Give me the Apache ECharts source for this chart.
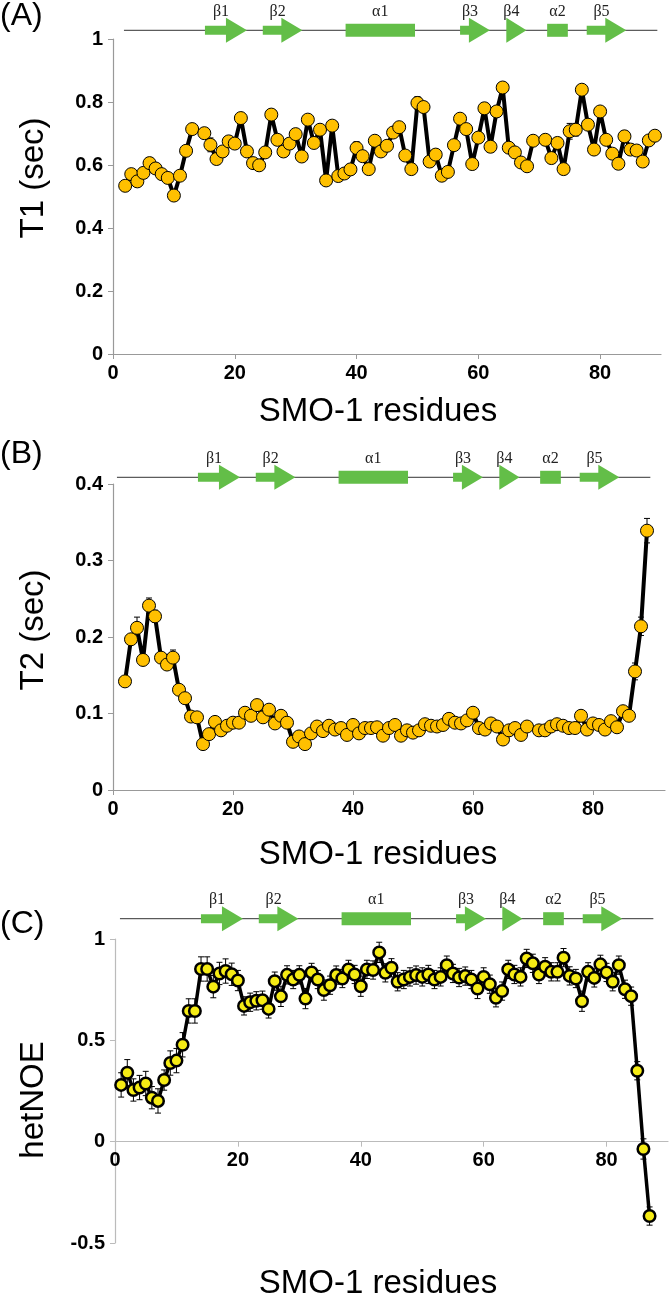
<!DOCTYPE html>
<html><head><meta charset="utf-8">
<script src="https://cdn.jsdelivr.net/npm/echarts@6/dist/echarts.min.js"></script>
<style>html,body{margin:0;padding:0;background:#fff}#c{width:670px;height:1298px}</style>
</head><body><div id="c"></div>
<script>
// ---------- data ----------
const xTicks = [0, 20, 40, 60, 80];
const t1Ticks = [0, 0.2, 0.4, 0.6, 0.8, 1];
const t2Ticks = [0, 0.1, 0.2, 0.3, 0.4];
const noeTicks = [-0.5, 0, 0.5, 1];

const t1Res = [2,3,4,5,6,7,8,9,10,11,12,13,
  15,16,17,18,19,20,21,22,23,24,25,26,27,28,29,30,31,32,33,34,35,36,37,38,39,40,41,42,43,44,45,46,47,48,49,50,51,52,53,54,55,56,57,58,59,60,61,62,63,64,65,66,67,68,69,
  71,72,73,74,75,76,77,78,79,80,81,82,83,84,85,86,87,88,89];
const t1Val = [0.534,0.571,0.548,0.575,0.606,0.589,0.571,0.559,0.503,0.566,0.645,0.714,
  0.701,0.664,0.619,0.643,0.675,0.668,0.749,0.643,0.606,0.599,0.640,0.760,0.680,0.643,0.668,0.698,0.627,0.744,0.670,0.712,0.551,0.725,0.565,0.573,0.586,0.654,0.628,0.587,0.677,0.643,0.661,0.703,0.720,0.630,0.587,0.797,0.784,0.611,0.633,0.566,0.578,0.663,0.747,0.714,0.603,0.687,0.780,0.658,0.770,0.846,0.655,0.640,0.608,0.596,0.677,
  0.680,0.622,0.670,0.587,0.707,0.712,0.839,0.728,0.649,0.770,0.680,0.636,0.604,0.691,0.649,0.646,0.611,0.678,0.693];
const t1Err = [0.012,0.012,0.012,0.012,0.012,0.012,0.012,0.012,0.012,0.012,0.012,0.012,
  0.012,0.022,0.012,0.012,0.012,0.012,0.012,0.012,0.012,0.012,0.012,0.012,0.012,0.012,0.012,0.015,0.012,0.012,0.012,0.012,0.012,0.012,0.012,0.012,0.012,0.020,0.012,0.012,0.015,0.012,0.012,0.012,0.012,0.012,0.012,0.020,0.012,0.012,0.012,0.012,0.012,0.012,0.016,0.012,0.012,0.015,0.012,0.012,0.012,0.012,0.012,0.012,0.012,0.012,0.012,
  0.012,0.012,0.012,0.012,0.025,0.020,0.012,0.012,0.012,0.012,0.012,0.012,0.012,0.012,0.012,0.012,0.012,0.012,0.012];

const t2Res = [2,3,4,5,6,7,8,9,10,11,12,13,14,15,16,17,18,19,20,21,22,23,24,25,26,27,28,29,30,31,32,33,34,35,36,37,38,39,40,41,42,43,44,45,46,47,48,49,50,51,52,53,54,55,56,57,58,59,60,61,62,63,64,65,66,67,68,69,
  71,72,73,74,75,76,77,78,79,80,81,82,83,84,85,86,87,88,89];
const t2Val = [0.142,0.197,0.212,0.170,0.241,0.227,0.173,0.164,0.173,0.131,0.120,0.096,0.095,0.060,0.073,0.089,0.078,0.084,0.088,0.088,0.101,0.097,0.111,0.095,0.105,0.087,0.097,0.088,0.063,0.070,0.060,0.074,0.083,0.077,0.084,0.079,0.081,0.072,0.085,0.074,0.081,0.081,0.082,0.071,0.081,0.085,0.071,0.078,0.075,0.078,0.086,0.084,0.083,0.085,0.093,0.088,0.087,0.091,0.101,0.081,0.079,0.087,0.083,0.066,0.078,0.081,0.072,0.083,
  0.078,0.078,0.083,0.086,0.084,0.081,0.081,0.097,0.079,0.087,0.085,0.079,0.090,0.082,0.103,0.097,0.155,0.214,0.339];
const t2Err = [0.004,0.006,0.014,0.004,0.010,0.008,0.004,0.004,0.010,0.004,0.004,0.004,0.004,0.004,0.004,0.004,0.004,0.004,0.004,0.004,0.004,0.004,0.004,0.004,0.004,0.004,0.004,0.004,0.004,0.004,0.004,0.004,0.004,0.004,0.004,0.004,0.004,0.004,0.004,0.004,0.004,0.004,0.004,0.004,0.004,0.004,0.004,0.004,0.004,0.004,0.004,0.004,0.004,0.004,0.004,0.004,0.004,0.004,0.004,0.004,0.004,0.004,0.004,0.004,0.004,0.004,0.004,0.004,
  0.004,0.004,0.004,0.004,0.004,0.004,0.004,0.006,0.004,0.004,0.004,0.004,0.004,0.004,0.006,0.004,0.011,0.012,0.016];

const noeRes = [1,2,3,4,5,6,7,8,9,10,11,12,13,14,15,16,17,18,19,20,21,22,23,24,25,26,27,28,29,30,31,32,33,34,35,36,37,38,39,40,41,42,43,44,45,46,47,48,49,50,51,52,53,54,55,56,57,58,59,60,61,62,63,64,65,66,67,68,69,70,71,72,73,74,75,76,77,78,79,80,81,82,83,84,85,86,87];
const noeVal = [0.280,0.340,0.255,0.267,0.287,0.217,0.201,0.304,0.388,0.400,0.478,0.645,0.645,0.852,0.852,0.765,0.830,0.842,0.826,0.795,
  0.670,0.688,0.695,0.698,0.655,0.792,0.717,0.823,0.800,0.823,0.706,0.835,0.800,0.748,0.772,0.822,0.805,0.850,0.825,0.767,
  0.850,0.847,0.934,0.833,0.858,0.789,0.800,0.813,0.822,0.813,0.825,0.800,0.813,0.871,0.830,0.810,0.817,0.800,0.756,0.813,
  0.777,0.710,0.743,0.850,0.825,0.813,0.904,0.880,0.825,0.863,0.838,0.838,0.908,0.818,0.805,0.693,0.838,0.808,0.875,0.835,
  0.789,0.871,0.752,0.718,0.350,-0.036,-0.367];
const noeErr = [0.060,0.065,0.055,0.060,0.060,0.055,0.060,0.050,0.060,0.060,0.060,0.060,0.060,0.060,0.060,0.055,0.055,0.060,0.055,0.050,
  0.045,0.045,0.045,0.045,0.045,0.045,0.050,0.045,0.045,0.045,0.050,0.045,0.045,0.050,0.045,0.045,0.045,0.045,0.045,0.050,
  0.045,0.045,0.050,0.045,0.045,0.045,0.045,0.045,0.045,0.045,0.045,0.045,0.045,0.045,0.045,0.045,0.045,0.045,0.050,0.045,
  0.045,0.045,0.045,0.045,0.045,0.045,0.045,0.045,0.045,0.045,0.045,0.045,0.045,0.045,0.045,0.050,0.045,0.045,0.045,0.045,
  0.045,0.045,0.045,0.045,0.045,0.050,0.045];

// secondary structure (residue numbers)
const ssLabels = ['β1','β2','α1','β3','β4','α2','β5'];
const ssStart = [15.1, 24.6, 38.2, 57.0, 64.6, 71.3, 77.8];
const ssEnd   = [22.0, 31.1, 49.6, 61.9, 67.9, 74.7, 84.3];
const ssKind  = ['strand','strand','helix','strand','strand','helix','strand'];
const ssLine  = [1.8, 89.4];

// ---------- chart ----------
const chart = echarts.init(document.getElementById('c'), null, {renderer: 'canvas'});
const SANS = "'Liberation Sans', Arial, sans-serif";
const SERIF = "'Liberation Serif', 'Times New Roman', serif";

function pairs(xs, ys) { return xs.map((x, i) => [x, ys[i]]); }
function triples(xs, ys, es) { return xs.map((x, i) => [x, ys[i], es[i]]); }

function errRender(params, api) {
  const x = api.value(0), y = api.value(1), e = api.value(2);
  const t = api.coord([x, y + e]), b = api.coord([x, y - e]);
  const w = 3;
  const st = {stroke: '#000', lineWidth: 1};
  return {type: 'group', children: [
    {type: 'line', shape: {x1: t[0], y1: t[1], x2: b[0], y2: b[1]}, style: st},
    {type: 'line', shape: {x1: t[0] - w, y1: t[1], x2: t[0] + w, y2: t[1]}, style: st},
    {type: 'line', shape: {x1: b[0] - w, y1: b[1], x2: b[0] + w, y2: b[1]}, style: st}
  ]};
}

function ssRender(params, api) {
  const s = api.coord([api.value(0), 0.5]);
  const e = api.coord([api.value(1), 0.5]);
  const kind = ssKind[params.dataIndex];
  const cy = s[1];
  const green = '#63be48';
  const children = [];
  let lx;
  if (kind === 'strand') {
    const head = 21, hh = 12.5, sh = 4.5;
    const hx = Math.max(s[0], e[0] - head);
    children.push({type: 'polygon', shape: {points: [
      [s[0], cy - sh], [hx, cy - sh], [hx, cy - hh], [e[0], cy], [hx, cy + hh], [hx, cy + sh], [s[0], cy + sh]
    ]}, style: {fill: green}});
    lx = (s[0] + e[0]) / 2 - 5;
  } else {
    children.push({type: 'rect', shape: {x: s[0], y: cy - 6.5, width: e[0] - s[0], height: 13}, style: {fill: green}});
    lx = (s[0] + e[0]) / 2;
  }
  children.push({type: 'text', x: lx, y: cy - 19, style: {
    text: ssLabels[params.dataIndex], font: '16px ' + SERIF, fill: '#222',
    textAlign: 'center', textVerticalAlign: 'middle'}});
  return {type: 'group', children: children};
}

const grids = [
  {left: 113, top: 39, width: 548, height: 315},
  {left: 113, top: 484, width: 552, height: 306},
  {left: 115, top: 939, width: 553, height: 304},
  {left: 113, top: 15.3, width: 548, height: 30},
  {left: 106, top: 462.3, width: 548, height: 30},
  {left: 109, top: 903.7, width: 548, height: 30}
];
const yRange = [[0, 1], [0, 0.4], [-0.5, 1]];

function plotX(gi, max, axisColor) {
  const r = yRange[gi];
  // place the x axis where y = 0
  const off = -grids[gi].height * (0 - r[0]) / (r[1] - r[0]);
  return {gridIndex: gi, type: 'value', min: 0, max: max, position: 'bottom', offset: off,
    axisLine: {show: true, onZero: false, lineStyle: {color: axisColor, width: 1.2}},
    axisTick: {show: true, inside: false, length: 5, customValues: xTicks, lineStyle: {color: axisColor}},
    axisLabel: {customValues: xTicks, margin: 9, color: '#000', fontFamily: SANS, fontWeight: 'bold', fontSize: 20},
    splitLine: {show: false}};
}
function plotY(gi, ticks, axisColor) {
  return {gridIndex: gi, type: 'value', min: yRange[gi][0], max: yRange[gi][1],
    axisLine: {show: true, onZero: false, lineStyle: {color: axisColor, width: 1.2}},
    axisTick: {show: true, inside: false, length: 5, customValues: ticks, lineStyle: {color: axisColor}},
    axisLabel: {customValues: ticks, margin: 10, color: '#000', fontFamily: SANS, fontWeight: 'bold', fontSize: 20},
    splitLine: {show: false}};
}
function diagX(gi) { return {gridIndex: gi, type: 'value', min: 0, max: 90, show: false}; }
function diagY(gi) { return {gridIndex: gi, type: 'value', min: 0, max: 1, show: false}; }

function dataSeries(ai, xs, ys, fill, border, bw, size, lw) {
  return {type: 'line', xAxisIndex: ai, yAxisIndex: ai, data: pairs(xs, ys), z: 3,
    symbol: 'circle', symbolSize: size, showSymbol: true, clip: false,
    lineStyle: {color: '#000', width: lw},
    itemStyle: {color: fill, borderColor: border, borderWidth: bw},
    emphasis: {disabled: true}};
}
function errSeries(ai, xs, ys, es) {
  return {type: 'custom', xAxisIndex: ai, yAxisIndex: ai, data: triples(xs, ys, es), z: 2, clip: false,
    renderItem: errRender, encode: {x: 0, y: 1}};
}
function ssSeries(ai) {
  return [
    {type: 'line', xAxisIndex: ai, yAxisIndex: ai, data: [[ssLine[0], 0.5], [ssLine[1], 0.5]], z: 1,
      symbol: 'none', lineStyle: {color: '#333', width: 1}, emphasis: {disabled: true}},
    {type: 'custom', xAxisIndex: ai, yAxisIndex: ai, z: 2, clip: false,
      data: ssStart.map((s, i) => [s, ssEnd[i]]), renderItem: ssRender, encode: {x: [0, 1]}}
  ];
}

function txt(x, y, text, size, rot, family) {
  return {type: 'text', x: x, y: y, rotation: rot || 0, style: {
    text: text, font: size + 'px ' + (family || SANS), fill: '#000',
    textAlign: 'center', textVerticalAlign: 'middle'}};
}

const option = {
  animation: false,
  backgroundColor: '#fff',
  grid: grids,
  xAxis: [plotX(0, 90, '#999'), plotX(1, 92, '#999'), plotX(2, 90, '#bbb'), diagX(3), diagX(4), diagX(5)],
  yAxis: [plotY(0, t1Ticks, '#999'), plotY(1, t2Ticks, '#999'), plotY(2, noeTicks, '#bbb'),
    diagY(3), diagY(4), diagY(5)],
  series: [
    errSeries(0, t1Res, t1Val, t1Err),
    dataSeries(0, t1Res, t1Val, '#ffc000', '#000', 1, 13, 4),
    errSeries(1, t2Res, t2Val, t2Err),
    dataSeries(1, t2Res, t2Val, '#ffc000', '#000', 1, 13, 4),
    errSeries(2, noeRes, noeVal, noeErr),
    dataSeries(2, noeRes, noeVal, '#f5eb14', '#000', 2.5, 11.5, 3.5),
    ...ssSeries(3), ...ssSeries(4), ...ssSeries(5)
  ],
  graphic: [
    {type: 'text', left: 0, top: 0, style: {text: '(A)', font: '32px ' + SANS, fill: '#000'}},
    {type: 'text', left: 0, top: 438, style: {text: '(B)', font: '32px ' + SANS, fill: '#000'}},
    {type: 'text', left: 0, top: 908, style: {text: '(C)', font: '32px ' + SANS, fill: '#000'}},
    txt(34, 178, 'T1 (sec)', 33, Math.PI / 2),
    txt(34, 630, 'T2 (sec)', 33, Math.PI / 2),
    txt(34, 1100, 'hetNOE', 33, Math.PI / 2),
    txt(378, 412, 'SMO-1 residues', 33),
    txt(378, 855, 'SMO-1 residues', 33),
    txt(378, 1284, 'SMO-1 residues', 33)
  ]
};
chart.setOption(option);
</script>
</body></html>
